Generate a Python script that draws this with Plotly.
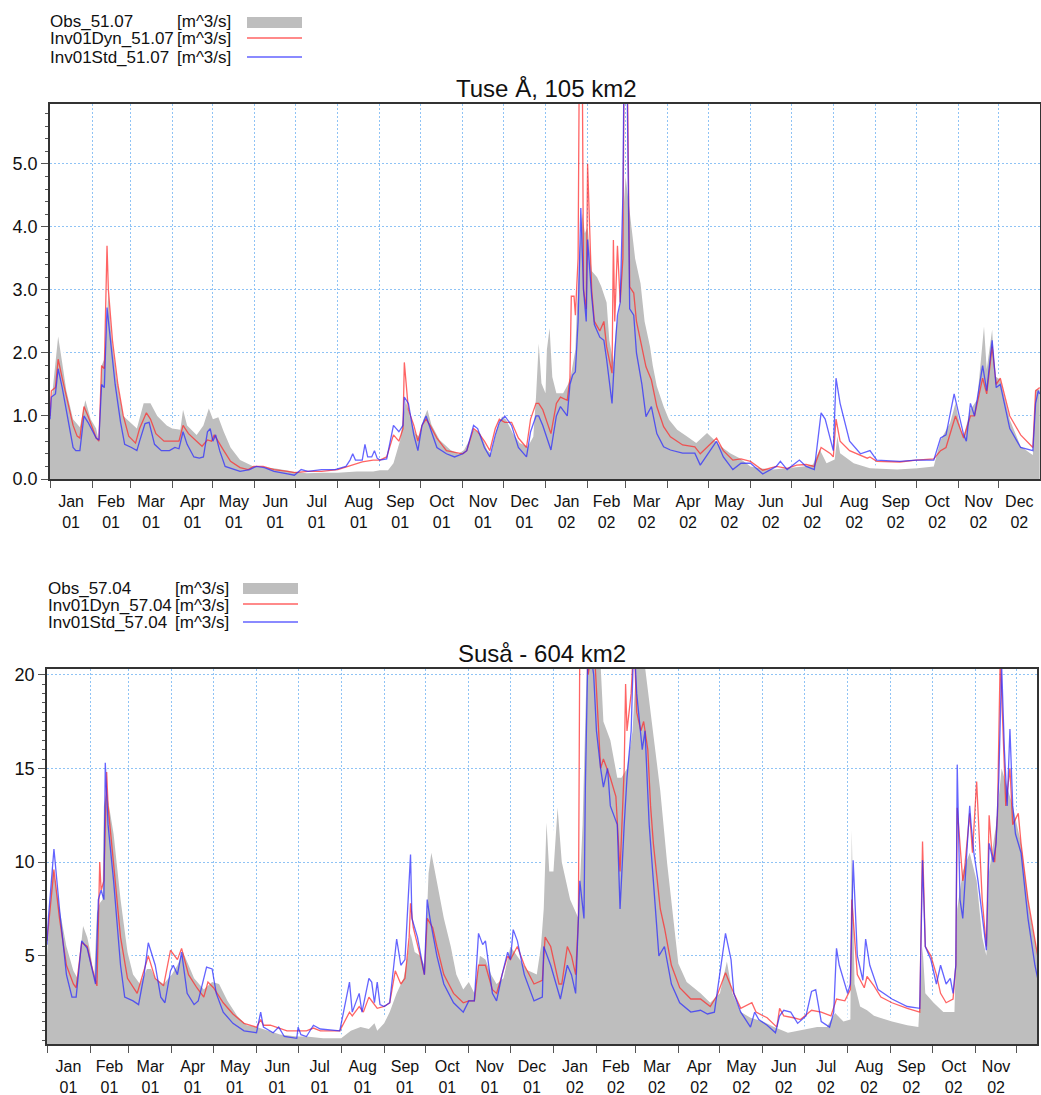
import pandas as pd
import plotly.graph_objects as go

W, H = 1041, 1095
START = pd.Timestamp("2001-01-01")

# ---- Tuse Å (51.07): day offset from 2001-01-01, discharge [m^3/s] ----
tuse_obs_day = [0, 2, 6, 9, 12, 17, 22, 26, 30, 34, 36, 38, 40, 43, 45, 49, 54, 59, 64, 69,
                74, 79, 86, 90, 96, 98, 101, 108, 113, 117, 120, 124, 128, 133, 140, 150, 165, 179, 189, 201,
                212, 226, 238, 243, 249, 253, 258, 260, 262, 265, 269, 272, 275, 278, 281, 287, 295, 301, 305, 309,
                312, 317, 322, 325, 329, 333, 336, 341, 346, 352, 356, 358, 360, 362, 365, 366, 368, 370, 373, 378,
                382, 384, 387, 388, 390, 392, 394, 396, 399, 403, 406, 410, 412, 415, 417, 420, 422, 424, 428, 431,
                435, 438, 442, 444, 447, 452, 456, 462, 469, 476, 484, 489, 494, 501, 508, 516, 523, 533, 543, 555,
                562, 567, 572, 578, 580, 582, 592, 604, 624, 639, 651, 656, 663, 667, 671, 673, 678, 683, 686, 688,
                690, 694, 696, 700, 707, 715, 722, 724, 726, 729]
tuse_obs = [1.0, 1.4, 2.26, 1.84, 1.41, 0.95, 0.82, 1.25, 0.95, 0.8, 0.6, 1.8, 1.9, 2.95, 2.3, 1.6, 1.0, 0.9, 0.8, 1.2,
            1.2, 1.0, 0.85, 0.8, 0.78, 1.1, 0.85, 0.7, 0.85, 1.12, 0.95, 0.98, 0.75, 0.5, 0.3, 0.2, 0.17, 0.12, 0.09, 0.1,
            0.1, 0.12, 0.12, 0.14, 0.14, 0.25, 0.62, 0.94, 1.25, 1.0, 0.72, 0.67, 0.94, 1.1, 0.86, 0.62, 0.46, 0.4, 0.46, 0.62,
            0.78, 0.72, 0.46, 0.4, 0.78, 0.99, 0.94, 0.72, 0.57, 0.51, 0.67, 1.3, 2.15, 1.52, 1.36, 2.05, 2.39, 1.62, 1.36, 1.36,
            1.52, 1.68, 2.05, 2.63, 3.6, 4.22, 3.9, 4.0, 3.3, 3.2, 3.06, 2.8, 2.2, 1.85, 2.4, 2.8, 4.1, 4.8, 4.1, 3.5,
            3.1, 2.5, 2.1, 1.8, 1.47, 1.15, 0.94, 0.78, 0.68, 0.57, 0.73, 0.62, 0.52, 0.41, 0.33, 0.2, 0.17, 0.15, 0.17, 0.2,
            0.23, 0.47, 0.25, 0.31, 0.68, 0.41, 0.25, 0.17, 0.15, 0.17, 0.2, 0.62, 0.89, 1.2, 0.78, 0.68, 1.1, 1.26, 1.95, 2.42,
            1.74, 2.37, 1.63, 1.58, 0.94, 0.52, 0.41, 0.38, 1.42, 1.42]

tuse_dyn_day = [0, 1, 4, 6, 9, 13, 17, 20, 22, 25, 28, 34, 36, 38, 40, 42, 43, 46, 50, 54,
                58, 63, 66, 71, 74, 78, 84, 90, 95, 98, 102, 108, 112, 116, 119, 121, 125, 128, 133, 140,
                146, 150, 157, 165, 175, 180, 190, 200, 212, 220, 230, 238, 243, 248, 253, 257, 260, 261, 264, 268,
                271, 274, 277, 280, 285, 292, 298, 304, 307, 312, 315, 320, 324, 328, 331, 335, 340, 345, 351, 354,
                358, 360, 363, 369, 373, 376, 381, 383, 384, 386, 387, 389, 390, 392, 393, 395, 396, 399, 401, 405,
                408, 410, 414, 415, 416, 418, 420, 422, 423, 425, 427, 430, 432, 434, 439, 443, 447, 452, 457, 466,
                475, 479, 491, 496, 503, 509, 516, 525, 535, 543, 550, 557, 563, 568, 575, 577, 579, 582, 589, 602,
                604, 609, 626, 638, 651, 656, 660, 667, 673, 678, 681, 687, 690, 694, 697, 700, 707, 715, 724, 726,
                729]
tuse_dyn = [1.0, 1.4, 1.45, 1.9, 1.6, 1.2, 0.85, 0.68, 0.65, 1.15, 1.0, 0.65, 0.6, 1.8, 1.75, 3.7, 3.0, 2.2, 1.5, 1.0,
            0.68, 0.57, 0.8, 1.05, 0.95, 0.72, 0.6, 0.6, 0.6, 0.85, 0.72, 0.6, 0.52, 0.62, 0.6, 0.7, 0.55, 0.45, 0.28, 0.18,
            0.15, 0.2, 0.2, 0.15, 0.12, 0.1, 0.12, 0.12, 0.15, 0.2, 0.27, 0.3, 0.3, 0.35, 0.7, 0.6, 0.8, 1.85, 1.1, 0.85,
            0.6, 0.85, 0.95, 0.85, 0.65, 0.45, 0.42, 0.4, 0.45, 0.8, 0.75, 0.6, 0.45, 0.8, 0.95, 0.9, 0.9, 0.65, 0.5, 0.95,
            1.2, 1.2, 1.1, 0.72, 1.2, 1.3, 1.25, 1.6, 2.9, 2.9, 2.6, 3.5, 7.0, 7.0, 3.0, 2.7, 5.0, 3.0, 2.5, 2.35,
            2.5, 2.1, 1.68, 3.79, 2.5, 3.7, 2.8, 3.5, 7.0, 7.0, 3.05, 2.95, 2.5, 2.3, 1.78, 1.57, 1.15, 0.83, 0.67, 0.54,
            0.51, 0.4, 0.65, 0.45, 0.3, 0.32, 0.28, 0.14, 0.2, 0.17, 0.22, 0.23, 0.2, 0.5, 0.4, 0.35, 0.95, 0.6, 0.45, 0.33,
            0.35, 0.28, 0.27, 0.3, 0.32, 0.45, 0.5, 1.0, 0.65, 1.0, 1.0, 1.6, 1.35, 2.1, 1.5, 1.6, 1.0, 0.7, 0.5, 1.4,
            1.45]

tuse_std_day = [0, 1, 4, 6, 9, 13, 17, 19, 22, 25, 28, 34, 36, 38, 40, 42, 45, 48, 52, 55,
                60, 64, 66, 70, 73, 77, 82, 88, 92, 95, 98, 101, 106, 110, 113, 116, 118, 120, 122, 125,
                129, 135, 140, 147, 152, 158, 165, 175, 180, 185, 190, 200, 210, 218, 221, 223, 225, 230, 232, 234,
                237, 239, 241, 243, 248, 253, 257, 260, 261, 264, 268, 271, 274, 277, 280, 285, 292, 298, 304, 307,
                312, 315, 320, 324, 328, 331, 335, 340, 345, 351, 354, 358, 360, 363, 369, 373, 376, 381, 383, 385,
                387, 389, 391, 393, 395, 396, 399, 401, 405, 408, 410, 414, 416, 418, 420, 422, 423, 425, 427, 430,
                432, 436, 439, 443, 447, 452, 457, 466, 475, 479, 491, 496, 503, 509, 516, 525, 535, 538, 543, 552,
                557, 563, 568, 571, 577, 579, 582, 589, 597, 604, 609, 626, 638, 651, 656, 660, 666, 673, 675, 678,
                681, 687, 690, 694, 697, 700, 707, 715, 724, 726, 728, 729]
tuse_std = [0.95, 1.3, 1.35, 1.75, 1.45, 1.0, 0.5, 0.45, 0.45, 1.0, 0.9, 0.65, 0.62, 1.5, 1.45, 2.72, 2.1, 1.5, 0.9, 0.55,
            0.5, 0.45, 0.6, 0.88, 0.9, 0.55, 0.45, 0.45, 0.5, 0.48, 0.75, 0.55, 0.35, 0.33, 0.35, 0.75, 0.8, 0.6, 0.7, 0.45,
            0.2, 0.15, 0.12, 0.15, 0.2, 0.18, 0.12, 0.08, 0.06, 0.15, 0.12, 0.15, 0.15, 0.2, 0.3, 0.4, 0.3, 0.3, 0.55, 0.35,
            0.35, 0.45, 0.33, 0.3, 0.32, 0.85, 0.75, 0.85, 1.3, 1.2, 0.7, 0.45, 0.85, 1.0, 0.8, 0.5, 0.4, 0.35, 0.4, 0.45,
            0.85, 0.8, 0.5, 0.35, 0.7, 0.9, 1.0, 0.85, 0.5, 0.35, 0.75, 1.0, 1.0, 0.85, 0.46, 1.0, 1.15, 1.0, 1.5, 1.65,
            1.7, 2.5, 4.3, 3.0, 2.5, 3.8, 2.9, 2.45, 2.25, 2.2, 1.9, 1.2, 2.0, 2.6, 2.8, 4.5, 7.0, 6.5, 2.7, 2.6,
            2.0, 1.5, 0.99, 1.15, 0.72, 0.51, 0.46, 0.41, 0.41, 0.22, 0.6, 0.35, 0.15, 0.25, 0.25, 0.08, 0.2, 0.28, 0.15, 0.3,
            0.2, 0.15, 1.05, 0.95, 0.45, 1.6, 1.2, 0.6, 0.4, 0.45, 0.3, 0.28, 0.3, 0.3, 0.65, 0.7, 1.35, 0.7, 0.6, 1.2,
            1.0, 1.8, 1.4, 2.2, 1.45, 1.5, 0.8, 0.5, 0.45, 1.2, 1.4, 1.35]

# ---- Suså (57.04) ----
susa_obs_day = [0, 2, 4, 6, 9, 14, 19, 22, 26, 29, 31, 34, 36, 38, 40, 41, 43, 44, 48, 53,
                58, 62, 67, 72, 75, 78, 84, 90, 94, 98, 102, 106, 113, 119, 124, 130, 137, 144, 151, 159,
                168, 180, 187, 199, 212, 219, 226, 232, 236, 238, 243, 247, 252, 257, 260, 262, 265, 269, 272, 274,
                275, 277, 281, 286, 291, 295, 300, 304, 308, 312, 316, 320, 324, 329, 334, 339, 346, 353, 356, 358,
                360, 362, 365, 368, 371, 377, 383, 386, 389, 392, 395, 399, 401, 406, 411, 414, 418, 422, 425, 430,
                435, 437, 442, 447, 452, 455, 461, 471, 478, 485, 490, 494, 500, 507, 516, 524, 534, 541, 547, 555,
                562, 568, 574, 579, 580, 582, 586, 591, 596, 609, 620, 628, 631, 633, 639, 646, 654, 656, 660, 665,
                670, 674, 677, 679, 684, 688, 692, 696, 702, 708, 714]
susa_obs = [5.0, 7.5, 9.8, 9.0, 7.5, 5.5, 4.2, 3.8, 6.6, 6.0, 5.3, 3.8, 7.3, 7.8, 8.0, 13.0, 13.8, 13.3, 11.5, 8.0,
            5.2, 4.0, 3.5, 4.3, 4.3, 3.8, 3.5, 4.0, 4.5, 5.2, 4.5, 3.8, 3.2, 3.6, 3.5, 2.6, 1.8, 1.3, 1.2, 1.0,
            0.8, 0.7, 0.7, 0.6, 0.6, 1.0, 1.2, 1.1, 1.4, 1.0, 1.4, 2.0, 3.0, 3.8, 5.0, 6.2, 5.2, 5.0, 4.5, 7.5,
            9.4, 10.5, 9.0, 7.0, 5.5, 4.0, 3.2, 3.6, 3.0, 5.0, 4.8, 4.0, 3.5, 3.8, 5.5, 5.0, 4.25, 4.0, 5.5, 7.5,
            12.1, 9.5, 9.5, 12.9, 10.0, 8.0, 7.0, 12.0, 20.5, 22.0, 21.0, 20.5, 17.5, 16.5, 14.5, 14.5, 15.0, 17.0, 21.0, 21.0,
            18.0, 17.0, 13.8, 9.9, 6.4, 4.6, 3.6, 3.0, 2.5, 3.0, 4.7, 3.0, 2.0, 1.7, 1.5, 1.2, 0.9, 1.0, 1.1, 1.2,
            1.2, 1.95, 1.5, 1.6, 11.7, 3.5, 2.3, 2.1, 1.8, 1.5, 1.3, 1.2, 5.5, 3.0, 2.5, 2.0, 2.0, 7.5, 9.5, 10.5,
            9.0, 6.0, 5.0, 9.5, 12.0, 15.0, 14.0, 13.0, 11.0, 7.5, 5.0]

susa_dyn_day = [0, 2, 5, 9, 14, 19, 21, 25, 29, 32, 36, 38, 39, 41, 43, 44, 48, 53, 58, 65,
                67, 73, 78, 84, 89, 94, 97, 102, 108, 113, 116, 120, 127, 134, 142, 151, 154, 156, 161, 167,
                173, 181, 187, 192, 197, 211, 218, 220, 225, 228, 232, 235, 238, 243, 247, 251, 255, 258, 261, 262,
                264, 269, 272, 274, 278, 281, 286, 293, 300, 304, 308, 311, 316, 321, 324, 328, 332, 334, 339, 344,
                351, 357, 359, 363, 369, 371, 375, 378, 381, 383, 384, 387, 390, 394, 399, 401, 406, 410, 413, 416,
                417, 418, 421, 423, 425, 428, 430, 433, 435, 437, 442, 445, 450, 456, 464, 471, 478, 483, 489, 495,
                500, 508, 511, 519, 526, 528, 531, 538, 543, 551, 558, 565, 569, 575, 579, 580, 584, 589, 591, 596,
                601, 609, 620, 629, 631, 633, 637, 641, 644, 648, 653, 655, 656, 660, 661, 665, 667, 670, 674, 677,
                679, 681, 683, 685, 687, 689, 691, 694, 696, 700, 702, 707, 712, 714]
susa_dyn = [5.8, 7.5, 9.6, 7.0, 4.5, 3.5, 3.3, 5.7, 5.5, 4.5, 3.4, 10.0, 8.5, 9.0, 14.8, 13.0, 10.0, 6.0, 3.8, 3.0,
            3.5, 5.0, 3.8, 3.4, 5.3, 4.8, 5.4, 4.0, 3.3, 2.8, 3.6, 3.3, 2.5, 1.9, 1.4, 1.2, 1.6, 1.3, 1.3, 1.15,
            1.0, 1.0, 1.0, 1.15, 1.0, 1.0, 2.0, 1.8, 2.3, 2.0, 2.8, 2.5, 2.2, 2.3, 2.5, 4.2, 3.5, 3.8, 6.0, 7.8,
            6.5, 5.0, 4.0, 7.0, 6.5, 5.5, 4.0, 3.0, 2.5, 2.6, 2.6, 4.5, 4.5, 3.2, 3.0, 4.0, 5.0, 4.8, 5.5, 4.5,
            3.5, 3.7, 6.0, 5.5, 3.5, 3.5, 5.5, 5.0, 4.0, 7.0, 22.0, 22.0, 20.0, 22.0, 15.0, 15.5, 14.5, 13.5, 9.5, 15.0,
            19.5, 17.0, 19.0, 22.0, 18.0, 17.0, 17.5, 16.0, 13.0, 11.0, 7.5, 6.5, 4.5, 3.3, 2.7, 2.7, 2.3, 2.9, 4.1, 3.0,
            2.2, 2.5, 2.0, 1.7, 1.2, 2.2, 1.8, 1.7, 1.6, 2.1, 2.0, 1.8, 2.7, 2.6, 3.2, 8.0, 4.0, 3.3, 3.9, 3.4,
            2.8, 2.5, 2.2, 2.0, 11.1, 5.5, 5.0, 4.0, 3.0, 2.5, 2.7, 4.5, 12.9, 9.0, 9.4, 12.6, 10.5, 14.3, 8.0, 5.5,
            12.5, 10.5, 10.0, 12.5, 21.0, 17.0, 13.0, 15.0, 12.0, 12.6, 11.0, 8.0, 6.0, 5.0]

susa_std_day = [0, 1, 5, 9, 14, 18, 21, 25, 29, 35, 37, 39, 41, 42, 44, 48, 53, 56, 62, 66,
                70, 73, 78, 82, 85, 89, 91, 94, 97, 101, 106, 109, 115, 119, 122, 127, 134, 142, 151, 154,
                156, 163, 167, 171, 180, 181, 183, 187, 192, 197, 211, 218, 220, 225, 227, 232, 234, 236, 238, 240,
                243, 247, 252, 255, 258, 262, 263, 267, 272, 274, 276, 281, 286, 293, 300, 304, 308, 311, 314, 316,
                321, 324, 328, 332, 334, 336, 339, 344, 351, 357, 358, 363, 370, 375, 378, 381, 384, 387, 388, 390,
                394, 396, 399, 401, 404, 406, 411, 413, 416, 418, 421, 423, 425, 429, 431, 434, 437, 441, 445, 450,
                456, 464, 471, 476, 481, 484, 489, 493, 495, 500, 507, 510, 513, 519, 525, 528, 531, 536, 541, 547,
                551, 554, 558, 564, 567, 569, 571, 577, 579, 581, 584, 588, 590, 593, 599, 609, 620, 629, 631, 633,
                637, 641, 644, 648, 651, 653, 655, 656, 658, 660, 662, 665, 666, 668, 671, 674, 677, 679, 682, 684,
                686, 688, 690, 692, 694, 696, 698, 702, 707, 712, 714]
susa_std = [5.6, 7.0, 10.7, 7.5, 4.0, 2.8, 2.8, 5.8, 5.4, 3.5, 8.0, 8.5, 8.0, 15.3, 12.0, 9.0, 4.5, 2.8, 2.6, 2.4,
            4.0, 5.7, 4.5, 2.8, 2.5, 4.2, 4.5, 4.0, 5.2, 3.0, 2.4, 2.6, 4.4, 4.3, 3.0, 2.0, 1.4, 1.0, 0.9, 2.0,
            1.2, 0.9, 1.2, 0.7, 0.6, 1.2, 0.8, 0.7, 1.3, 1.1, 1.0, 3.6, 2.0, 3.0, 2.0, 3.8, 3.6, 2.5, 3.6, 2.4,
            2.3, 2.5, 5.9, 4.5, 4.8, 10.4, 7.0, 6.0, 4.0, 8.0, 7.0, 5.0, 3.5, 2.5, 2.0, 2.6, 2.6, 6.2, 5.6, 5.8,
            3.0, 2.6, 4.0, 5.2, 4.8, 6.4, 5.8, 4.0, 2.6, 2.8, 5.5, 4.5, 2.7, 4.5, 4.0, 3.0, 9.0, 7.0, 14.0, 22.0,
            20.0, 17.0, 15.0, 14.0, 15.0, 13.0, 12.0, 7.5, 12.0, 14.5, 17.0, 22.0, 19.0, 16.0, 17.0, 12.0, 9.0, 5.0, 5.5, 3.5,
            2.5, 2.0, 2.1, 1.9, 2.0, 3.5, 6.2, 4.8, 3.0, 2.0, 1.2, 2.0, 1.6, 1.3, 0.9, 1.8, 2.1, 2.0, 1.4, 1.8,
            3.1, 3.2, 1.5, 1.2, 2.0, 5.4, 4.5, 3.0, 3.5, 10.1, 5.0, 3.7, 5.9, 4.5, 3.2, 2.7, 2.3, 2.2, 10.1, 5.5,
            4.8, 3.5, 4.5, 3.5, 3.8, 3.0, 4.5, 15.2, 8.0, 7.0, 9.5, 13.0, 12.0, 10.5, 9.0, 7.0, 5.3, 11.0, 10.0, 11.0,
            14.5, 20.5, 16.0, 13.0, 17.1, 13.0, 11.5, 10.5, 7.0, 4.5, 3.8]

OBS_FILL = "#bebebe"
DYN_COLOR = "rgba(255,40,40,0.72)"
STD_COLOR = "rgba(40,40,255,0.72)"
GRID = "#8fc3f5"
FONT = "Liberation Sans, Arial, sans-serif"


def to_dates(days):
    return START + pd.to_timedelta(days, unit="D")


# screen pixel -> paper fraction
def px(x):
    return x / W


def py(y):
    return 1 - y / H


fig = go.Figure()


def add_panel(n, obs_day, obs, dyn_day, dyn, std_day, std):
    xa, ya = ("x", "y") if n == 1 else ("x%d" % n, "y%d" % n)
    obs_x = to_dates(obs_day)
    # white halo along the observed curve, partly hidden by the grey fill
    fig.add_trace(go.Scatter(x=obs_x, y=obs, mode="lines", line=dict(color="white", width=6),
                             xaxis=xa, yaxis=ya, showlegend=False, hoverinfo="skip"))
    fig.add_trace(go.Scatter(x=obs_x, y=obs, mode="lines", fill="tozeroy", fillcolor=OBS_FILL,
                             line=dict(width=0, color=OBS_FILL), xaxis=xa, yaxis=ya, showlegend=False))
    fig.add_trace(go.Scatter(x=to_dates(dyn_day), y=dyn, mode="lines", line=dict(color=DYN_COLOR, width=1.3),
                             xaxis=xa, yaxis=ya, showlegend=False))
    fig.add_trace(go.Scatter(x=to_dates(std_day), y=std, mode="lines", line=dict(color=STD_COLOR, width=1.3),
                             xaxis=xa, yaxis=ya, showlegend=False))


add_panel(1, tuse_obs_day, tuse_obs, tuse_dyn_day, tuse_dyn, tuse_std_day, tuse_std)
add_panel(2, susa_obs_day, susa_obs, susa_dyn_day, susa_dyn, susa_std_day, susa_std)

x_common = dict(type="date", dtick="M1", tick0="2001-01-01", ticklabelmode="period",
                tickformat="%b<br>%y", ticks="outside", ticklen=7, tickcolor="#555",
                showgrid=True, gridcolor=GRID, griddash="2px,2px", gridwidth=1,
                showline=True, linecolor="#333", linewidth=1.5, mirror=True, zeroline=False,
                automargin=False, tickfont=dict(size=16, color="#111", family=FONT), ticklabelstandoff=0)
y_common = dict(ticks="outside", ticklen=7, tickcolor="#555", showgrid=True, gridcolor=GRID,
                griddash="2px,2px", gridwidth=1, showline=True, linecolor="#333", linewidth=1.5,
                mirror=True, zeroline=False, automargin=False,
                tickfont=dict(size=18, color="#111", family=FONT))

fig.update_layout(
    width=W, height=H,
    margin=dict(l=0, r=0, t=0, b=0, autoexpand=False),
    paper_bgcolor="white", plot_bgcolor="white",
    font=dict(family=FONT, color="#111"),
    showlegend=False,
    xaxis=dict(x_common, domain=[px(50), px(1040)], anchor="y",
               range=["2001-01-01", "2002-12-31 06:00"]),
    yaxis=dict(y_common, domain=[py(479), py(104)], anchor="x", range=[0, 5.95],
               dtick=1, tick0=0, tickformat=".1f",
               minor=dict(dtick=0.2, tick0=0, ticks="outside", ticklen=3, tickcolor="#555", showgrid=False)),
    xaxis2=dict(x_common, domain=[px(47), px(1037)], anchor="y2",
                range=["2001-01-01", "2002-12-15 12:00"]),
    yaxis2=dict(y_common, domain=[py(1044), py(669)], anchor="x2", range=[0.3, 20.3],
                dtick=5, tick0=0,
                minor=dict(dtick=0.5, tick0=0, ticks="outside", ticklen=3, tickcolor="#555", showgrid=False)),
)

annotations = [
    dict(text="Tuse Å, 105 km2", x=px(546), y=py(88), font=dict(size=24)),
    dict(text="Suså - 604 km2", x=px(542), y=py(653), font=dict(size=24)),
]
shapes = []

legends = [
    # (names, text left, unit left, row y's, swatch x0, x1, grey swatch y0, y1)
    (["Obs_51.07", "Inv01Dyn_51.07", "Inv01Std_51.07"], 48, 175, [21, 39, 57], 247, 302, 17, 28),
    (["Obs_57.04", "Inv01Dyn_57.04", "Inv01Std_57.04"], 46, 173, [588, 605, 622], 243, 298, 583, 594),
]
for names, tx, ux, rows, sx0, sx1, gy0, gy1 in legends:
    for name, ry in zip(names, rows):
        annotations.append(dict(text=name, x=px(tx), y=py(ry), xanchor="left", font=dict(size=17)))
        annotations.append(dict(text="[m^3/s]", x=px(ux), y=py(ry), xanchor="left", font=dict(size=17)))
    shapes.append(dict(type="rect", xref="paper", yref="paper", x0=px(sx0), x1=px(sx1),
                       y0=py(gy1), y1=py(gy0), fillcolor=OBS_FILL, line=dict(width=0)))
    shapes.append(dict(type="line", xref="paper", yref="paper", x0=px(sx0), x1=px(sx1),
                       y0=py(rows[1] - 1), y1=py(rows[1] - 1), line=dict(color=DYN_COLOR, width=1.5)))
    shapes.append(dict(type="line", xref="paper", yref="paper", x0=px(sx0), x1=px(sx1),
                       y0=py(rows[2]), y1=py(rows[2]), line=dict(color=STD_COLOR, width=1.5)))

for a in annotations:
    a.update(xref="paper", yref="paper", showarrow=False, yanchor="middle",
             xanchor=a.get("xanchor", "center"))
    a["font"] = dict(a["font"], family=FONT, color="#111")

fig.update_layout(annotations=annotations, shapes=shapes)

# drop the browser's default 8px body margin so the figure fills the window exactly
fig.write_html("out.html", config={"displayModeBar": False},
               post_script="document.body.style.margin='0';")
